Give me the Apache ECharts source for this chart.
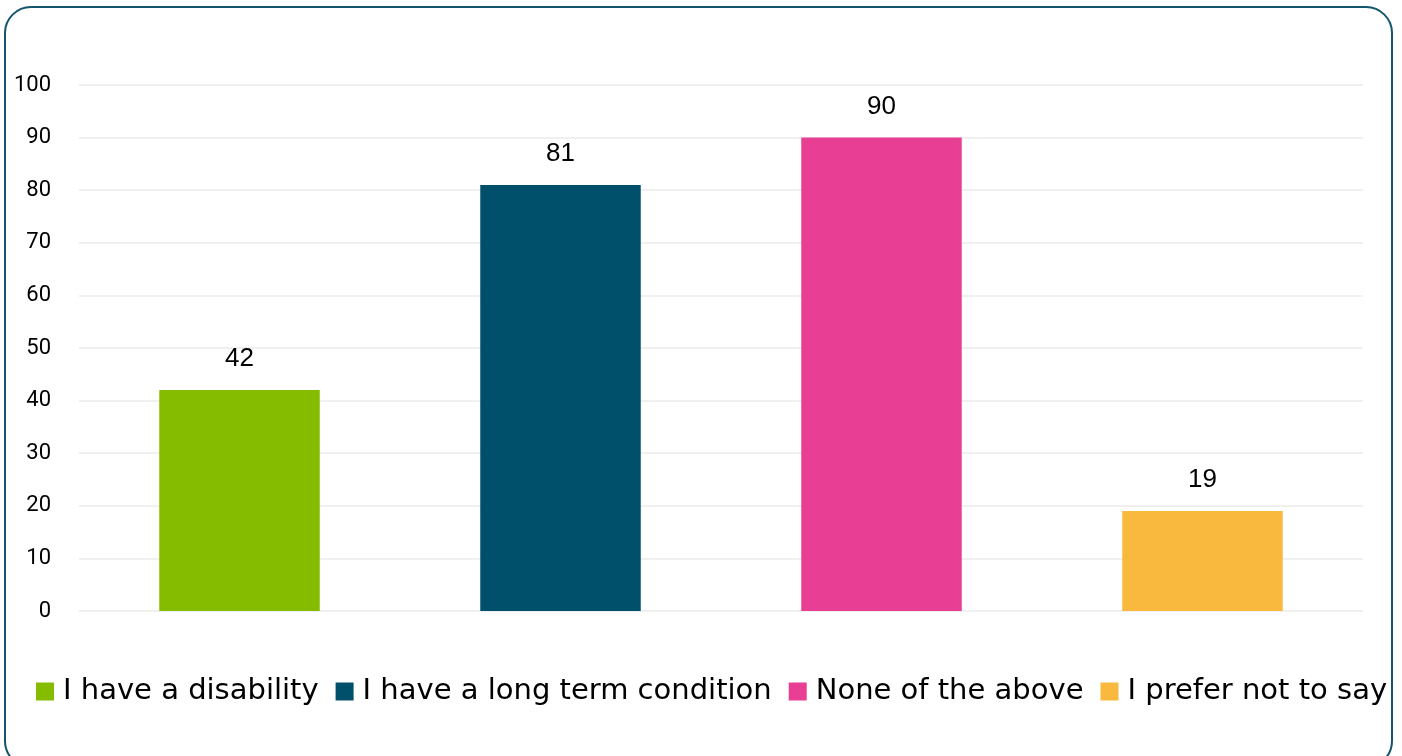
<!DOCTYPE html>
<html>
<head>
<meta charset="utf-8">
<script src="https://cdn.jsdelivr.net/npm/echarts@6/dist/echarts.min.js"></script>
<style>
  html, body { margin: 0; padding: 0; background: #ffffff; }
  #chart { width: 1402px; height: 756px; }
</style>
</head>
<body>
<div id="chart"></div>
<script>
// Responses by category
const categories = ['I have a disability', 'I have a long term condition', 'None of the above', 'I prefer not to say'];
const values = [42, 81, 90, 19];
const colors = ['#86BC00', '#00506B', '#E83E94', '#F9B93E'];
const yTicks = { min: 0, max: 100, interval: 10 };

const legendFont = '"DejaVu Sans", sans-serif';
const axisFont = 'Roboto, "DejaVu Sans", sans-serif';

// One series per category so each appears in the legend; bars share the slot
const series = categories.map((name, i) => ({
  name: name,
  type: 'bar',
  barWidth: '50%',
  barGap: '-100%',
  itemStyle: { color: colors[i] },
  label: {
    show: true,
    position: 'top',
    distance: 18,
    color: '#000000',
    fontFamily: '"Liberation Sans", Arial, sans-serif',
    fontSize: 26
  },
  data: categories.map((c, j) => (j === i ? values[i] : '-'))
}));

const chart = echarts.init(document.getElementById('chart'));
chart.setOption({
  animation: false,
  graphic: [{
    type: 'rect',
    shape: { x: 5, y: 7, width: 1387, height: 760, r: 26 },
    style: { fill: 'none', stroke: '#14556E', lineWidth: 2 },
    silent: true,
    z: -1
  }],
  grid: { left: 79, right: 39, top: 85, bottom: 145 },
  legend: {
    bottom: 45,
    left: 31,
    itemWidth: 18,
    itemHeight: 18,
    itemGap: 17,
    icon: 'rect',
    textStyle: { fontFamily: legendFont, fontSize: 29, color: '#000000', padding: [0, 0, 0, 4] },
    data: categories
  },
  xAxis: {
    type: 'category',
    data: categories,
    axisLine: { show: false },
    axisTick: { show: false },
    axisLabel: { show: false }
  },
  yAxis: {
    type: 'value',
    min: yTicks.min,
    max: yTicks.max,
    interval: yTicks.interval,
    axisLine: { show: false },
    axisTick: { show: false },
    splitLine: { lineStyle: { color: '#F0F0F0', width: 2 } },
    axisLabel: { fontFamily: axisFont, fontSize: 22, color: '#000000', margin: 28 }
  },
  series: series
});
</script>
</body>
</html>
